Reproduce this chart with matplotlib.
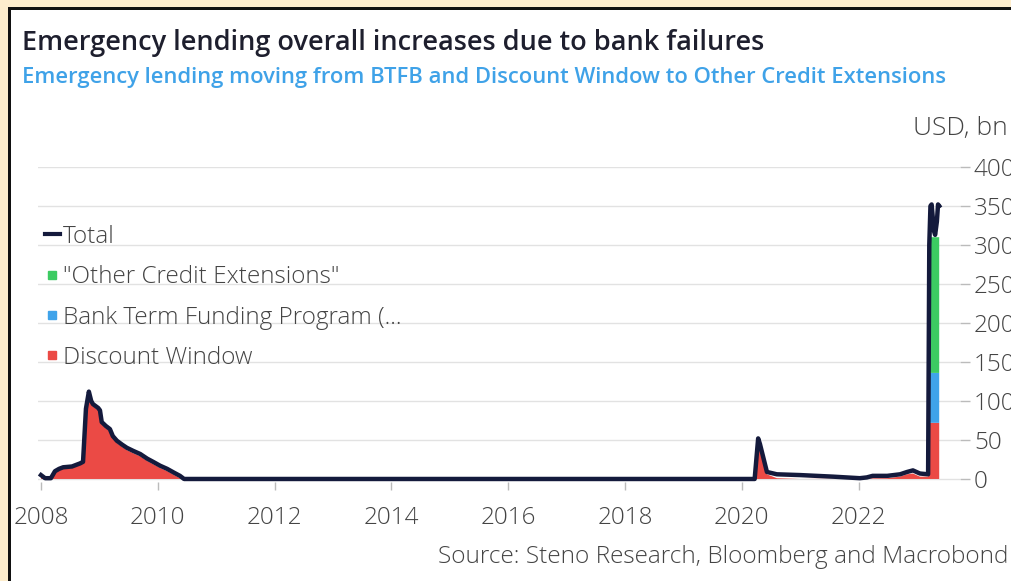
import matplotlib
matplotlib.use("Agg")
import matplotlib.pyplot as plt
from matplotlib.lines import Line2D
from matplotlib.patches import Rectangle

plt.rcParams['font.family'] = ['Open Sans', 'DejaVu Sans']

# Total emergency lending, USD bn (decimal years)
total_x = [2008.00, 2008.07, 2008.17, 2008.24, 2008.31, 2008.38, 2008.53, 2008.67, 2008.72,
           2008.77, 2008.82, 2008.86, 2008.89, 2008.98, 2009.01, 2009.04, 2009.11, 2009.18,
           2009.23, 2009.30, 2009.39, 2009.47, 2009.58, 2009.70, 2009.82, 2009.92, 2010.04,
           2010.16, 2010.28, 2010.38, 2010.45, 2020.22, 2020.28, 2020.31, 2020.36, 2020.43,
           2020.60, 2021.00, 2021.56, 2022.02, 2022.14, 2022.24, 2022.49, 2022.71, 2022.83,
           2022.93, 2023.05, 2023.19, 2023.21, 2023.23, 2023.25, 2023.29, 2023.31, 2023.34,
           2023.36, 2023.38]
total_y = [5, 1, 1, 10, 13, 15, 16, 20, 22,
           90, 112, 100, 96, 91, 88, 73, 68, 64,
           55, 49, 44, 40, 36, 32, 26, 22, 17,
           13, 8, 4, 0, 0, 52, 45, 30, 9,
           6, 5, 3, 1, 2, 4, 4, 6, 9,
           11, 7, 6, 300, 350, 352, 318, 313, 330,
           352, 350]

# Components (stacked)
comp_x = [2008.00, 2008.07, 2008.17, 2008.24, 2008.31, 2008.38, 2008.53, 2008.67, 2008.72,
          2008.77, 2008.82, 2008.86, 2008.89, 2008.98, 2009.01, 2009.04, 2009.11, 2009.18,
          2009.23, 2009.30, 2009.39, 2009.47, 2009.58, 2009.70, 2009.82, 2009.92, 2010.04,
          2010.16, 2010.28, 2010.38, 2010.45, 2020.22, 2020.28, 2020.31, 2020.36, 2020.43,
          2020.60, 2021.00, 2022.49, 2022.71, 2022.83, 2022.93, 2023.05, 2023.19, 2023.21,
          2023.38]
discount_window = [4, 0, 0, 8, 11, 13, 14, 18, 20,
                   88, 108, 97, 93, 88, 85, 70, 65, 61,
                   52, 46, 41, 37, 33, 29, 23, 19, 14,
                   10, 5, 1, 0, 0, 48, 41, 26, 6,
                   1, 0, 1, 3, 6, 7, 3, 3, 72,
                   72]
btfp = [0] * 44 + [64, 64]
other_credit = [0] * 44 + [174, 174]

fig = plt.figure(figsize=(10.11, 5.81), dpi=100)
fig.patch.set_facecolor('#fdedcd')
W, H = 1011, 581
fig.patches.append(Rectangle((8 / W, 0), 1, (H - 7) / H, transform=fig.transFigure,
                             facecolor='#111111', edgecolor='none', zorder=-2))
fig.patches.append(Rectangle((11 / W, 0), 1, (H - 10) / H, transform=fig.transFigure,
                             facecolor='white', edgecolor='none', zorder=-1))

# axes placement (pixels)
ax_left, ax_right, ax_top, ax_bot = 38, 960, 167, 482.1
ax = fig.add_axes([ax_left / W, (H - ax_bot) / H, (ax_right - ax_left) / W, (ax_bot - ax_top) / H])
ax.set_facecolor('none')
ax.set_zorder(1)

red, blue, green, navy = '#eb4a45', '#3fa3ea', '#3ccb62', '#141a3c'
ax.stackplot(comp_x, discount_window, btfp, other_credit,
             colors=[red, blue, green], linewidth=0, zorder=2)
ax.plot(total_x, total_y, color=navy, lw=3.2, solid_joinstyle='round', zorder=3, clip_on=False)

ax.set_xlim(2007.949, 2023.736)
ax.set_ylim(-4, 400)
ax.set_xticks(range(2008, 2023, 2))
ax.set_yticks(range(0, 401, 50))
ax.yaxis.tick_right()
ax.grid(axis='y', color='#e2e2e2', lw=1, zorder=0)
for s in ax.spines.values():
    s.set_visible(False)
ax.tick_params(axis='x', length=6, width=1, color='#bbbbbb', labelsize=17.5,
               labelcolor='#444444', pad=11)
ax.tick_params(axis='y', length=7, width=1, color='#bbbbbb', labelsize=17.5,
               labelcolor='#444444', pad=3)
for lbl in ax.get_xticklabels() + ax.get_yticklabels():
    lbl.set_fontweight('light')

handles = [Line2D([], [], color=navy, lw=3),
           Line2D([], [], marker='s', ls='none', color=green, markersize=6),
           Line2D([], [], marker='s', ls='none', color=blue, markersize=6),
           Line2D([], [], marker='s', ls='none', color=red, markersize=6)]
labels = ['Total', '"Other Credit Extensions"', 'Bank Term Funding Program (...', 'Discount Window']
leg = ax.legend(handles, labels, loc='upper left', bbox_to_anchor=(45 / W, (H - 225) / H),
                bbox_transform=fig.transFigure, frameon=False, fontsize=17.5,
                handlelength=0.6, handletextpad=0.15, labelspacing=0.67, borderpad=0,
                borderaxespad=0)
for t in leg.get_texts():
    t.set_color('#444444')
    t.set_fontweight('light')

fig.text(22 / W, (H - 43) / H, 'Emergency lending overall increases due to bank failures',
         fontsize=19.5, weight='semibold', color='#1e1f2e', va='center', ha='left')
fig.text(22 / W, (H - 77) / H,
         'Emergency lending moving from BTFB and Discount Window to Other Credit Extensions',
         fontsize=15.8, weight='semibold', color='#3fa2e8', va='center', ha='left')
fig.text(913 / W, (H - 128) / H, 'USD, bn', fontsize=19, weight='light',
         color='#444444', va='center', ha='left')
fig.text(1008 / W, (H - 557) / H, 'Source: Steno Research, Bloomberg and Macrobond',
         fontsize=17.6, weight='light', color='#444444', va='center', ha='right')

fig.savefig('out.png', dpi=100, facecolor=fig.get_facecolor())
